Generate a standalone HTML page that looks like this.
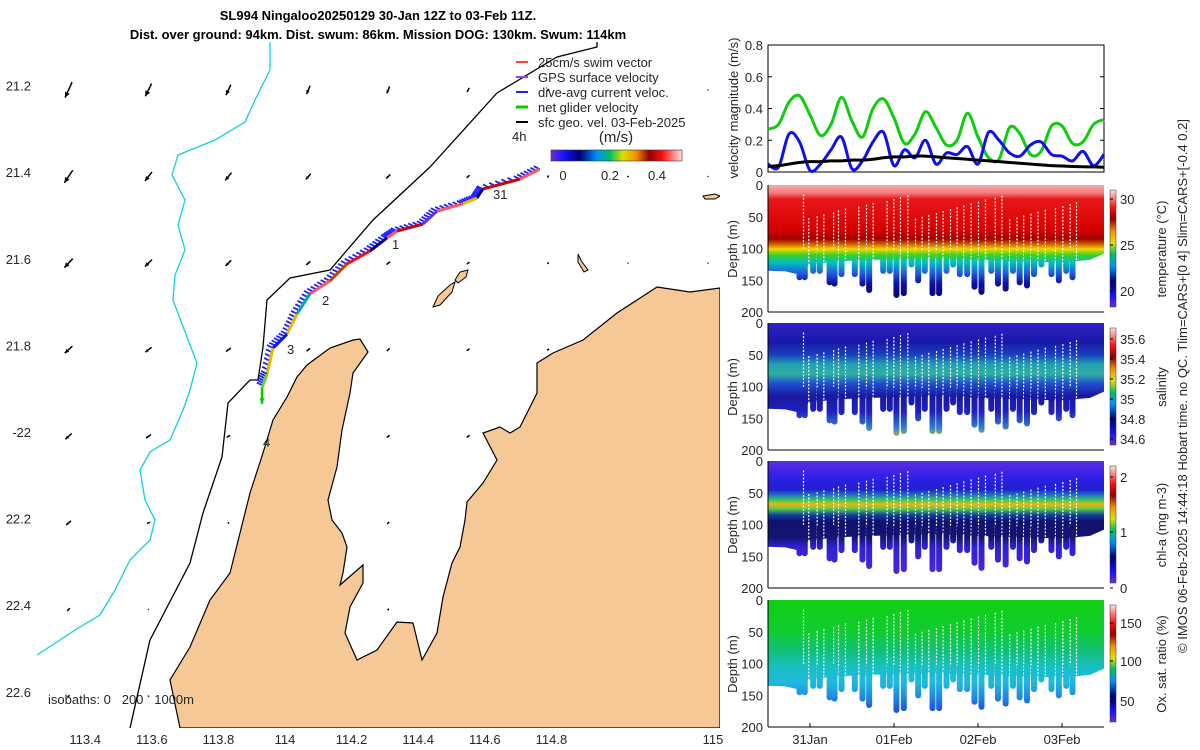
<!DOCTYPE html>
<html><head><meta charset="utf-8"><title>SL994 Ningaloo glider</title>
<style>
html,body{margin:0;padding:0;background:#fff;}
svg{display:block;font-family:"Liberation Sans","DejaVu Sans",sans-serif;}
.tk{font-size:13px;fill:#262626;}
.ttl{font-size:13px;font-weight:bold;fill:#000;}
</style></head><body>
<svg id="chart" width="1200" height="750" viewBox="0 0 1200 750" xmlns="http://www.w3.org/2000/svg">
<defs>
<linearGradient id="jetH" x1="0" x2="1" y1="0" y2="0">
<stop offset="0" stop-color="#7030d0"/><stop offset="0.1" stop-color="#1010ff"/><stop offset="0.22" stop-color="#000070"/><stop offset="0.35" stop-color="#0090ff"/><stop offset="0.45" stop-color="#00c060"/><stop offset="0.55" stop-color="#e0e000"/><stop offset="0.65" stop-color="#f09000"/><stop offset="0.75" stop-color="#900000"/><stop offset="0.85" stop-color="#ff1010"/><stop offset="1" stop-color="#ffe0e0"/>
</linearGradient>
<linearGradient id="jetV" x1="0" x2="0" y1="1" y2="0">
<stop offset="0" stop-color="#7030d0"/><stop offset="0.1" stop-color="#1010ff"/><stop offset="0.22" stop-color="#000070"/><stop offset="0.35" stop-color="#0090ff"/><stop offset="0.45" stop-color="#00c060"/><stop offset="0.55" stop-color="#e0e000"/><stop offset="0.65" stop-color="#f09000"/><stop offset="0.75" stop-color="#900000"/><stop offset="0.85" stop-color="#ff1010"/><stop offset="1" stop-color="#ffe0e0"/>
</linearGradient>
<clipPath id="mapclip"><rect x="37" y="42" width="683" height="686"/></clipPath>
</defs>

<text class="ttl" x="378" y="20" text-anchor="middle">SL994 Ningaloo20250129 30-Jan 12Z to 03-Feb 11Z.</text>
<text class="ttl" x="378" y="39" text-anchor="middle">Dist. over ground: 94km. Dist. swum: 86km. Mission DOG: 130km. Swum: 114km</text>

<g id="map" clip-path="url(#mapclip)">
  <g id="quiver"></g>
  <polyline fill="none" stroke="#10d0e0" stroke-width="1.3" points="270,42 270,70 255,100 245,122 215,140 178,155 172,175 185,200 178,225 185,250 175,275 173,300 190,345 197,363 190,390 183,410 170,440 150,452 140,470 145,500 155,520 150,540 130,560 115,590 100,615 75,630 60,640 37,655"/>
  <polyline fill="none" stroke="#000" stroke-width="1.3" points="597,42 597,47 557,57 497,93 430,167 373,220 330,270 290,278 267,300 263,347 258,380 250,380 228,403 222,457 203,513 190,563 150,640 130,728"/>
  <path fill="#f5c896" stroke="#000" stroke-width="1.2" d="M180,728 L170,680 L190,647 L210,600 L230,573 L250,493 L263,453 L273,420 L287,397 L297,377 L307,365 L330,348 L353,340 L360,339 L368,352 L353,373 L350,393 L342,430 L337,467 L328,500 L332,520 L342,533 L347,547 L343,573 L340,585 L363,565 L363,583 L350,607 L345,633 L357,660 L377,650 L397,622 L413,623 L422,660 L437,633 L443,597 L452,563 L460,547 L465,520 L467,502 L483,483 L497,460 L483,433 L500,427 L510,433 L520,427 L530,407 L537,393 L537,363 L553,353 L583,340 L617,313 L657,287 L690,292 L720,288 L720,728 Z"/>
  <path fill="#f5c896" stroke="#000" stroke-width="1" d="M433,307 L438,296 L450,285 L455,282 L452,292 L440,305 Z M455,280 L460,272 L468,270 L466,277 L458,283 Z"/>
  <path fill="#f5c896" stroke="#000" stroke-width="1" d="M578,254 L582,262 L588,270 L584,272 L578,262 Z M703,196 L715,194 L720,196 L715,199 L705,199 Z"/>
  <g id="track"></g>
  <text class="tk" x="493" y="199">31</text>
  <text class="tk" x="392" y="249">1</text>
  <text class="tk" x="322" y="305">2</text>
  <text class="tk" x="287" y="354">3</text>
  <text class="tk" x="263" y="447">4</text>
  <text class="tk" x="48" y="704" xml:space="preserve">isobaths: 0   200   1000m</text>
</g>
<g id="mapaxes"></g>

<g id="maplegend">
  <line x1="528" y1="62" x2="516" y2="62" stroke="#ff4040" stroke-width="2"/><text class="tk" x="538" y="67">25cm/s swim vector</text>
  <line x1="528" y1="77" x2="516" y2="77" stroke="#a040e0" stroke-width="2"/><text class="tk" x="538" y="82">GPS surface velocity</text>
  <line x1="528" y1="92" x2="516" y2="92" stroke="#2020ff" stroke-width="2"/><text class="tk" x="538" y="97">dive-avg current veloc.</text>
  <line x1="528" y1="107" x2="516" y2="107" stroke="#00cc00" stroke-width="3"/><text class="tk" x="538" y="112">net glider velocity</text>
  <line x1="528" y1="122" x2="516" y2="122" stroke="#000" stroke-width="2"/><text class="tk" x="538" y="127">sfc geo. vel. 03-Feb-2025</text>
  <text class="tk" x="512" y="141">4h</text>
  <text x="616" y="142" font-size="15" fill="#262626" text-anchor="middle">(m/s)</text>
  <rect x="551" y="150" width="131" height="11" fill="url(#jetH)" stroke="#333" stroke-width="0.6"/>
  <text class="tk" x="563" y="180" text-anchor="middle">0</text>
  <text class="tk" x="610" y="180" text-anchor="middle">0.2</text>
  <text class="tk" x="657" y="180" text-anchor="middle">0.4</text>
</g>

<g id="vel"></g>
<g id="profiles"></g>

<text class="tk" transform="translate(1187,386) rotate(-90)" text-anchor="middle" font-size="14">© IMOS 06-Feb-2025 14:44:18 Hobart time. no QC. Tlim=CARS+[0 4] Slim=CARS+[-0.4 0.2]</text>
</svg>
<script>
// ---------- data ----------
const mapLonTicks=[113.4,113.6,113.8,114,114.2,114.4,114.6,114.8];
const mapLatTicks=[21.2,21.4,21.6,21.8,22,22.2,22.4,22.6];
const mapLatLabels=["21.2","21.4","21.6","21.8","-22","22.2","22.4","22.6"];
const quivLon=[113.35,113.59,113.83,114.07,114.31,114.55,114.79,115.03,115.27];
const quivLat=[21.21,21.41,21.61,21.81,22.01,22.21,22.41,22.61];
const quivU=[
[-0.10,-0.09,-0.07,-0.05,-0.04,-0.03,-0.02,-0.01,-0.01],
[-0.12,-0.10,-0.09,-0.07,-0.06,-0.04,-0.02,-0.01,-0.01],
[-0.12,-0.10,-0.08,-0.06,-0.05,-0.04,-0.02,-0.01,-0.01],
[-0.11,-0.09,-0.07,-0.05,-0.04,-0.04,-0.03,-0.01,-0.01],
[-0.09,-0.07,-0.05,-0.05,-0.04,-0.04,-0.03,-0.02,-0.01],
[-0.07,-0.04,-0.02,-0.02,-0.03,-0.03,-0.02,-0.02,-0.01],
[-0.04,-0.01,-0.01,-0.01,-0.02,-0.02,-0.02,-0.01,-0.01],
[-0.03,0.00,0.00,0.00,-0.01,-0.01,-0.01,-0.01,0.00]];
const quivV=[
[-0.22,-0.18,-0.15,-0.12,-0.10,-0.06,-0.03,-0.02,-0.01],
[-0.18,-0.13,-0.11,-0.08,-0.06,-0.04,-0.03,-0.02,-0.01],
[-0.13,-0.10,-0.08,-0.05,-0.04,-0.03,-0.02,-0.01,-0.01],
[-0.10,-0.07,-0.05,-0.04,-0.04,-0.03,-0.02,-0.01,-0.01],
[-0.08,-0.05,-0.03,-0.02,-0.03,-0.03,-0.02,-0.02,-0.01],
[-0.06,-0.02,-0.01,-0.01,-0.03,-0.03,-0.02,-0.02,-0.01],
[-0.04,-0.01,-0.01,-0.01,-0.02,-0.02,-0.02,-0.01,-0.01],
[-0.02,-0.02,-0.02,0.00,-0.01,-0.01,-0.01,-0.01,0.00]];
const trackLon=[114.765,114.705,114.594,114.576,114.534,114.456,114.414,114.336,114.306,114.255,114.186,114.135,114.075,114.036,114.006,113.964,113.946,113.931];
const trackLat=[21.393,21.416,21.439,21.460,21.473,21.490,21.520,21.536,21.552,21.582,21.612,21.651,21.681,21.727,21.774,21.806,21.866,21.898];
const trackSpeed=[0.45,0.4,0.1,0.3,0.45,0.0,0.4,0.45,0.1,0.42,0.35,0.45,0.2,0.3,0.05,0.3,0.25,0.3];

const velTime=[];for(let i=0;i<=32;i++)velTime.push(i*3);
const velGreen=[0.27,0.30,0.44,0.48,0.36,0.23,0.30,0.47,0.32,0.22,0.40,0.46,0.34,0.18,0.24,0.38,0.28,0.17,0.20,0.37,0.22,0.09,0.08,0.28,0.24,0.11,0.13,0.29,0.29,0.18,0.19,0.30,0.33];
const velBlue=[0.05,0.03,0.24,0.19,0.01,0.05,0.14,0.22,0.02,0.07,0.19,0.25,0.04,0.14,0.09,0.20,0.05,0.12,0.11,0.16,0.05,0.25,0.20,0.12,0.10,0.17,0.19,0.11,0.10,0.07,0.13,0.04,0.11];
const velBlack=[0.035,0.04,0.05,0.06,0.065,0.065,0.07,0.07,0.075,0.075,0.08,0.09,0.095,0.095,0.1,0.1,0.095,0.09,0.085,0.08,0.075,0.07,0.065,0.06,0.055,0.05,0.045,0.04,0.038,0.035,0.033,0.032,0.03];
const velTicks=[0,0.2,0.4,0.6,0.8];
const dateTicks=[12,36,60,84];
const dateLabels=["31Jan","01Feb","02Feb","03Feb"];
const diveTime=[9.0,10.5,12.9,14.8,17.6,19.0,21.0,24.8,27.0,28.9,32.9,34.8,36.7,38.8,41.0,42.9,44.8,47.0,48.9,51.0,52.9,54.8,56.9,59.0,61.0,63.8,65.7,67.9,70.0,71.9,74.0,76.0,78.1,81.0,83.1,85.2,87.0];
const diveDepth=[150,150,140,140,158,160,145,145,160,170,140,140,178,175,130,155,140,175,175,140,130,145,145,165,173,140,160,168,140,158,163,145,130,145,155,140,150];
const blockTime=[0,5,8,12,20,30,48,60,72,84,92,96];
const blockDepth=[135,136,140,125,120,118,115,118,120,122,118,108];

// ---------- helpers ----------
const NS="http://www.w3.org/2000/svg";
function mk(tag,attrs,parent){const e=document.createElementNS(NS,tag);for(const k in attrs)e.setAttribute(k,attrs[k]);parent.appendChild(e);return e;}
const lonX=lon=>285+(lon-114)*333;
const latY=lat=>432+(lat-22)*433;
function jet(v){
  const st=[[0,[112,48,208]],[0.1,[16,16,255]],[0.22,[0,0,112]],[0.35,[0,144,255]],[0.45,[0,192,96]],[0.55,[224,224,0]],[0.65,[240,144,0]],[0.75,[144,0,0]],[0.85,[255,16,16]],[1,[255,224,224]]];
  v=Math.max(0,Math.min(1,v));
  for(let i=1;i<st.length;i++){if(v<=st[i][0]){const a=st[i-1],b=st[i],t=(v-a[0])/(b[0]-a[0]);return 'rgb('+a[1].map((c,j)=>Math.round(c+(b[1][j]-c)*t)).join(',')+')';}}
  return 'rgb(255,224,224)';
}
function arrow(g,x1,y1,x2,y2,col,w,head){
  mk('line',{x1:x1,y1:y1,x2:x2,y2:y2,stroke:col,'stroke-width':w},g);
  const len=Math.hypot(x2-x1,y2-y1);
  const a=Math.atan2(y2-y1,x2-x1),h=Math.min(head,len*0.45);
  if(h<0.5)return;
  mk('polygon',{points:`${x2},${y2} ${x2-h*Math.cos(a-0.45)},${y2-h*Math.sin(a-0.45)} ${x2-h*Math.cos(a+0.45)},${y2-h*Math.sin(a+0.45)}`,fill:col},g);
}

// ---------- map ----------
const quiv=document.getElementById('quiver');
quivLat.forEach((lat,r)=>quivLon.forEach((lon,c)=>{
  const x=lonX(lon),y=latY(lat),sc=70;
  const g=mk('g',{},quiv);
  
  
  const dx=quivU[r][c]*sc,dy=-quivV[r][c]*sc;
  const x0=x-dx/2,y0=y-dy/2;
  arrow(g,x0,y0,x0+dx,y0+dy,'#000',1.5,6);
}));
const trk=document.getElementById('track');
for(let i=0;i<trackLon.length-1;i++){
  const x1=lonX(trackLon[i]),y1=latY(trackLat[i]),x2=lonX(trackLon[i+1]),y2=latY(trackLat[i+1]);
  const n=6;
  for(let k=0;k<n;k++){
    const px=x1+(x2-x1)*k/n,py=y1+(y2-y1)*k/n;
    const s=mk('line',{x1:px,y1:py,x2:px-6,y2:py-3,stroke:'#2020ff','stroke-width':1.8},trk);
    
    
  }
  const seg=mk('line',{x1:x1,y1:y1,x2:x2,y2:y2,stroke:jet(trackSpeed[i]/0.5),'stroke-width':3},trk);
  
  
}
{const n=trackLon.length-1;const x=lonX(trackLon[n]),y=latY(trackLat[n]);
 const g=mk('g',{},trk);
 
 
 arrow(g,x,y,x,y+16,'#00cc00',2.5,6);}

const ax=document.getElementById('mapaxes');
mapLonTicks.forEach(v=>{
  const t=mk('text',{class:'tk',x:lonX(v),y:744,'text-anchor':'middle'},ax);t.textContent=String(v);
  
  
});
{const t=mk('text',{class:'tk',x:713,y:744,'text-anchor':'middle'},ax);t.textContent='115';
 
 }
mapLatTicks.forEach((v,i)=>{
  const t=mk('text',{class:'tk',x:31,y:latY(v)+5,'text-anchor':'end'},ax);t.textContent=mapLatLabels[i];
  
  
});

// ---------- velocity panel ----------
const X0=768,X1=1104;
const tX=h=>X0+h/96*(X1-X0);
const vel=document.getElementById('vel');
const vY=v=>172-v/0.8*127;
mk('rect',{x:X0,y:45,width:X1-X0,height:127,fill:'#fff',stroke:'#000','stroke-width':1},vel);
velTicks.forEach(v=>{
  const t=mk('text',{class:'tk',x:763,y:vY(v)+5,'text-anchor':'end'},vel);t.textContent=String(v);
  
  
  mk('line',{x1:X0,x2:X0+4,y1:vY(v),y2:vY(v),stroke:'#000'},vel);
  mk('line',{x1:X1,x2:X1-4,y1:vY(v),y2:vY(v),stroke:'#000'},vel);
});
{const t=mk('text',{class:'tk',transform:'translate(738,108) rotate(-90)','text-anchor':'middle'},vel);t.textContent='velocity magnitude (m/s)';
 
 }
function smoothPath(xs,ys){
  let d=`M${xs[0]},${ys[0]}`;
  for(let i=0;i<xs.length-1;i++){
    const x0=xs[Math.max(0,i-1)],y0=ys[Math.max(0,i-1)],x1=xs[i],y1=ys[i],x2=xs[i+1],y2=ys[i+1],x3=xs[Math.min(xs.length-1,i+2)],y3=ys[Math.min(xs.length-1,i+2)];
    d+=` C${x1+(x2-x0)/6},${y1+(y2-y0)/6} ${x2-(x3-x1)/6},${y2-(y3-y1)/6} ${x2},${y2}`;
  }
  return d;
}
[[velGreen,'#10cc10','net-glider-speed-line'],[velBlue,'#1010ee','dive-avg-current-line'],[velBlack,'#000','geostrophic-speed-line']].forEach(([arr,col,nm])=>{
  const p=mk('path',{d:smoothPath(velTime.map(tX),arr.map(vY)),fill:'none',stroke:col,'stroke-width':3,'stroke-linejoin':'round'},vel);
  
  
});

// ---------- profile panels ----------
const prof=document.getElementById('profiles');
const panels=[
 {name:'temperature',top:185,label:'temperature (°C)',ticks:[[30,199],[25,245],[20,291]],
  stops:[[0,'#f8a8a8'],[12,'#f58080'],[22,'#e81818'],[70,'#d80000'],[85,'#a00000'],[93,'#d06000'],[101,'#f0d800'],[110,'#40d020'],[122,'#00c0c0'],[138,'#2060e0'],[155,'#1010a0'],[180,'#000070']]},
 {name:'salinity',top:323,label:'salinity',ticks:[['35.6',339],['35.4',359],['35.2',379],['35',399],['34.8',419],['34.6',439]],
  stops:[[0,'#3020c8'],[30,'#1818a8'],[50,'#1840c0'],[65,'#20a0b0'],[80,'#30b0a0'],[95,'#2050d0'],[115,'#1818a0'],[140,'#2020c0'],[165,'#3080d0'],[180,'#c0c020']]},
 {name:'chl-a',top:461,label:'chl-a (mg m-3)',ticks:[['2',477],['1',532],['0',588]],
  stops:[[0,'#5a30e0'],[25,'#3020e8'],[45,'#2020d0'],[55,'#2080c0'],[62,'#40d040'],[68,'#f0b020'],[75,'#60d040'],[85,'#1040a0'],[95,'#101070'],[120,'#141470'],[135,'#3020d0'],[180,'#4a28e0']]},
 {name:'oxygen',top:600,label:'Ox. sat. ratio (%)',ticks:[['150',623],['100',661],['50',701]],
  stops:[[0,'#10d010'],[50,'#10cc30'],[80,'#10c078'],[105,'#18c0c0'],[130,'#20b8e0'],[150,'#2090e0'],[175,'#2050d8']]}
];
panels.forEach((P,pi)=>{
  const g=mk('g',{},prof);
  
  
  const dY=d=>P.top+d/200*127;
  const gid='pg'+pi;
  const lg=mk('linearGradient',{id:gid,x1:0,x2:0,y1:dY(0),y2:dY(200),gradientUnits:'userSpaceOnUse'},document.querySelector('defs'));
  P.stops.forEach(s=>mk('stop',{offset:s[0]/200,'stop-color':s[1]},lg));
  let pts=`${tX(0)},${dY(0)} ${tX(96)},${dY(0)} `;
  for(let i=blockTime.length-1;i>=0;i--)pts+=`${tX(blockTime[i])},${dY(blockDepth[i])} `;
  const poly=mk('polygon',{points:pts,fill:`url(#${gid})`},g);
  
  
  diveTime.forEach((h,i)=>{
    const r=mk('rect',{x:tX(h)-3,y:dY(100),width:6,height:dY(diveDepth[i])-dY(100),rx:3,fill:`url(#${gid})`},g);
    
    
    mk('line',{x1:tX(h)+4,x2:tX(h)+4,y1:dY(15+(i*37)%40),y2:dY(diveDepth[i]-10),stroke:'#fff','stroke-width':1.2,'stroke-dasharray':'2 1.5'},g);
  });
  mk('line',{x1:X0,x2:X0,y1:P.top,y2:P.top+127,stroke:'#000'},g);
  mk('line',{x1:X0,x2:X1,y1:P.top+127,y2:P.top+127,stroke:'#000'},g);
  [0,50,100,150,200].forEach(d=>{
    const t=mk('text',{class:'tk',x:763,y:dY(d)+5,'text-anchor':'end'},g);t.textContent=String(d);
    
    
  });
  const yt=mk('text',{class:'tk',transform:`translate(737,${P.top+64}) rotate(-90)`,'text-anchor':'middle'},g);yt.textContent='Depth (m)';
  
  
  const cb=mk('rect',{x:1110,y:P.top+5,width:6,height:117,fill:'url(#jetV)',stroke:'#333','stroke-width':0.5},g);
  
  
  P.ticks.forEach(tk=>{
    mk('line',{x1:1110,x2:1113,y1:tk[1],y2:tk[1],stroke:'#000'},g);
    const t=mk('text',{class:'tk',x:1120,y:tk[1]+5,'font-size':'14'},g);t.textContent=String(tk[0]);
    
    
  });
  const cl=mk('text',{class:'tk',transform:`translate(1166,${P.top+64}) rotate(-90)`,'text-anchor':'middle','font-size':'16'},g);cl.textContent=P.label;
  
  
  if(pi===3){
    dateTicks.forEach((h,i)=>{
      mk('line',{x1:tX(h),x2:tX(h),y1:P.top+127,y2:P.top+123,stroke:'#000'},g);
      const t=mk('text',{class:'tk',x:tX(h),y:744,'text-anchor':'middle'},g);t.textContent=dateLabels[i];
      
      
    });
  }
});
</script>
</body></html>
